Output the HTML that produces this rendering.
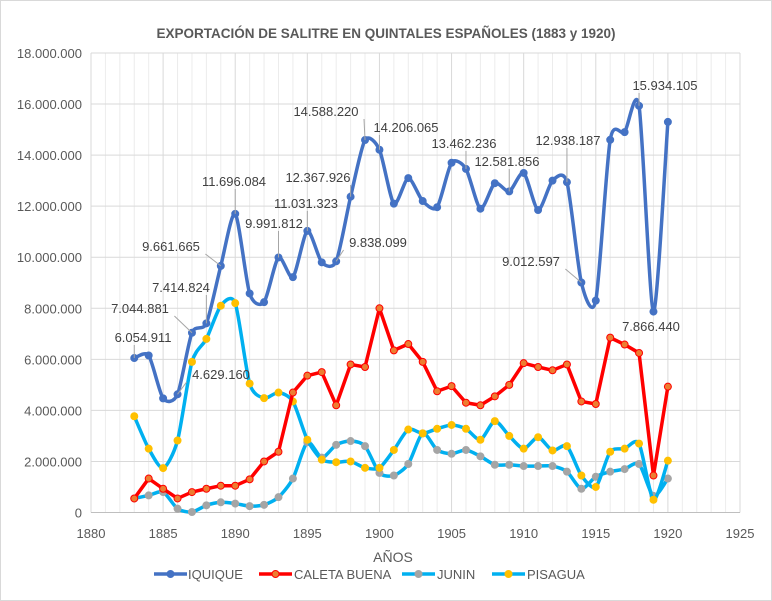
<!DOCTYPE html>
<html><head><meta charset="utf-8">
<style>
html,body{margin:0;padding:0;background:#fff;}
svg{display:block;font-family:"Liberation Sans",sans-serif;}
</style></head>
<body>
<svg id="chart" width="772" height="601" viewBox="0 0 772 601">
<rect x="0.5" y="0.5" width="771" height="600" fill="#fff" stroke="#d9d9d9"/>
<text x="386" y="38" text-anchor="middle" font-size="13.5" font-weight="bold" fill="#595959">EXPORTACIÓN DE SALITRE EN QUINTALES ESPAÑOLES (1883 y 1920)</text>
<g id="grid"></g>
<g id="axes"></g>
<g id="series"></g>
<g id="labels"></g>
<text x="393" y="562" text-anchor="middle" font-size="14" fill="#595959">AÑOS</text>
<g id="legend"></g>
</svg>
<script>
const years = [];
for (let y = 1883; y <= 1920; y++) years.push(y);
const iquique = [6.05,6.15,4.47,4.63,7.04,7.41,9.66,11.70,8.58,8.24,9.99,9.22,11.03,9.80,9.84,12.37,14.59,14.21,12.10,13.10,12.20,11.96,13.70,13.46,11.90,12.90,12.58,13.30,11.85,13.00,12.94,9.01,8.30,14.60,14.90,15.93,7.87,15.30];
const caleta = [0.55,1.33,0.93,0.55,0.80,0.93,1.05,1.05,1.30,2.00,2.38,4.70,5.36,5.50,4.20,5.80,5.70,8.00,6.35,6.60,5.90,4.75,4.95,4.30,4.20,4.55,5.00,5.85,5.70,5.57,5.80,4.35,4.25,6.85,6.58,6.25,1.45,4.93];
const junin = [0.55,0.67,0.80,0.15,0.02,0.28,0.40,0.35,0.25,0.30,0.60,1.33,2.75,2.15,2.65,2.80,2.60,1.55,1.45,1.90,3.10,2.45,2.30,2.45,2.20,1.87,1.87,1.82,1.82,1.82,1.60,0.93,1.40,1.60,1.70,1.90,0.65,1.33];
const pisagua = [3.77,2.50,1.74,2.82,5.90,6.80,8.10,8.20,5.05,4.48,4.70,4.35,2.85,2.07,1.97,2.00,1.75,1.75,2.45,3.25,3.10,3.28,3.43,3.28,2.85,3.58,3.00,2.50,2.95,2.43,2.60,1.45,1.00,2.38,2.50,2.70,0.50,2.03];
const yTicks = ["0","2.000.000","4.000.000","6.000.000","8.000.000","10.000.000","12.000.000","14.000.000","16.000.000","18.000.000"];
const xTicks = [1880,1885,1890,1895,1900,1905,1910,1915,1920,1925];
const labelYears = [1883,1886,1887,1888,1889,1890,1893,1895,1897,1898,1899,1900,1906,1909,1913,1914,1918,1919];
const labelTexts = ["6.054.911","4.629.160","7.044.881","7.414.824","9.661.665","11.696.084","9.991.812","11.031.323","9.838.099","12.367.926","14.588.220","14.206.065","13.462.236","12.581.856","12.938.187","9.012.597","15.934.105","7.866.440"];
const labelTextPos = [[143,342],[221,379],[140,313],[181,292],[171,251],[234,186],[274,228],[306,208],[378,247],[318,182],[326,116],[406,132],[464,148],[507,166],[568,145],[531,266],[665,90],[651,331]];

const NS="http://www.w3.org/2000/svg";
const X0=91, X1=740, Y0=512.5, Y1=53;
const xs = v => X0 + (v-1880)/(1925-1880)*(X1-X0);
const ys = v => Y0 - v/18*(Y0-Y1);
function el(tag, attrs, parent){const e=document.createElementNS(NS,tag);for(const k in attrs)e.setAttribute(k,attrs[k]);parent.appendChild(e);return e;}
const grid=document.getElementById('grid'), axes=document.getElementById('axes'), ser=document.getElementById('series'), lab=document.getElementById('labels'), leg=document.getElementById('legend');

for(let yr=1880; yr<=1925; yr++){
  const g=el('line',{x1:xs(yr),x2:xs(yr),y1:Y1,y2:Y0,stroke:yr%5===0?'#d9d9d9':'#ececec','stroke-width':1},grid);
  
  
}
yTicks.forEach((t,i)=>{
  const v=i*2;
  const g=el('line',{x1:X0,x2:X1,y1:ys(v),y2:ys(v),stroke:'#d9d9d9','stroke-width':1},grid);
  
  
  const tx=el('text',{x:82,y:ys(v)+5,'text-anchor':'end','font-size':13,fill:'#595959'},axes);
  tx.textContent=t;
  
  
});
const ax=el('line',{x1:X0,x2:X1,y1:Y0,y2:Y0,stroke:'#bfbfbf','stroke-width':1},axes);


xTicks.forEach(t=>{
  const tx=el('text',{x:xs(t),y:538,'text-anchor':'middle','font-size':13,fill:'#595959'},axes);
  tx.textContent=t;
  
  
});

function smoothPath(pts){
  let d='M'+pts[0][0]+','+pts[0][1];
  const t=1/8;
  for(let i=0;i<pts.length-1;i++){
    const p0=pts[Math.max(0,i-1)],p1=pts[i],p2=pts[i+1],p3=pts[Math.min(pts.length-1,i+2)];
    const c1=[p1[0]+(p2[0]-p0[0])*t,p1[1]+(p2[1]-p0[1])*t];
    const c2=[p2[0]-(p3[0]-p1[0])*t,p2[1]-(p3[1]-p1[1])*t];
    d+=' C'+c1[0]+','+c1[1]+' '+c2[0]+','+c2[1]+' '+p2[0]+','+p2[1];
  }
  return d;
}
function straightPath(pts){return 'M'+pts.map(p=>p[0]+','+p[1]).join(' L');}
function drawSeries(name, vals, line, mfill, mstroke, smooth){
  const g=el('g',{},ser);
  
  
  const pts=vals.map((v,i)=>[xs(years[i]),ys(v)]);
  const p=el('path',{d:smooth?smoothPath(pts):straightPath(pts),fill:'none',stroke:line,'stroke-width':3.5,'stroke-linejoin':'round','stroke-linecap':'round'},g);
  
  
  pts.forEach(q=>{
    const c=el('circle',{cx:q[0],cy:q[1],r:3.5,fill:mfill,stroke:mstroke,'stroke-width':1},g);
    
    
  });
}
drawSeries('junin',junin,'#00b0f0','#a5a5a5','#a5a5a5',true);
drawSeries('pisagua',pisagua,'#00b0f0','#ffc000','#ffc000',true);
drawSeries('caleta-buena',caleta,'#ff0000','#ed7d31','#ff0000',false);
drawSeries('iquique',iquique,'#4472c4','#4472c4','#4472c4',true);

const clamp=(v,a,b)=>Math.max(a,Math.min(b,v));
labelYears.forEach((yr,i)=>{
  const idx=years.indexOf(yr);
  const px=xs(yr), py=ys(iquique[idx]);
  const [tx,ty]=labelTextPos[i];
  const hw=labelTexts[i].length*3.6+2;
  const sx=clamp(px,tx-hw,tx+hw), sy=clamp(py,ty-12,ty+3);
  if(Math.hypot(px-sx,py-sy)>8){
    const ln=el('line',{x1:sx,x2:px,y1:sy,y2:py,stroke:'#a6a6a6','stroke-width':1},lab);
    
    
  }
  const t=el('text',{x:tx,y:ty,'text-anchor':'middle','font-size':13,fill:'#404040'},lab);
  t.textContent=labelTexts[i];
  
  
});

const legItems=[['IQUIQUE','#4472c4','#4472c4',154,188],['CALETA BUENA','#ff0000','#ed7d31',259,294],['JUNIN','#00b0f0','#a5a5a5',402,437],['PISAGUA','#00b0f0','#ffc000',492,527]];
legItems.forEach(it=>{
  const g=el('g',{},leg);
  
  
  el('line',{x1:it[3],x2:it[3]+33,y1:574,y2:574,stroke:it[1],'stroke-width':3.5},g);
  el('circle',{cx:it[3]+16.5,cy:574,r:3.5,fill:it[2],stroke:it[1]==='#ff0000'?'#ff0000':it[2]},g);
  const t=el('text',{x:it[4],y:579,'font-size':13,fill:'#595959'},g);
  t.textContent=it[0];
});
</script>
</body></html>
